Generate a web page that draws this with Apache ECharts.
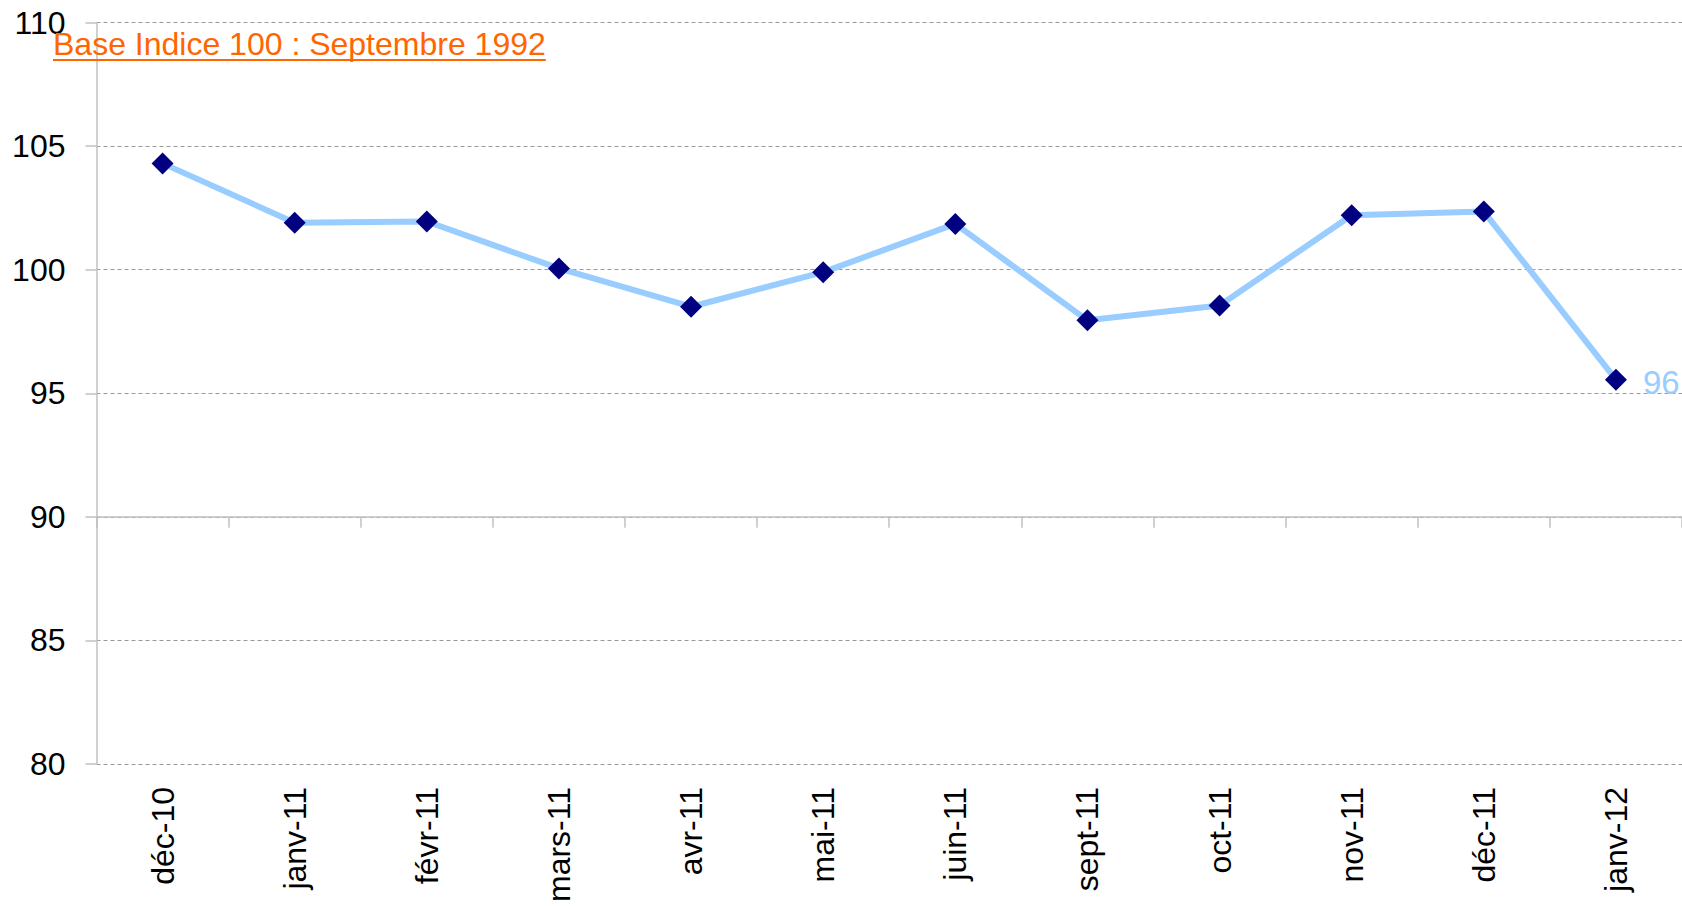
<!DOCTYPE html>
<html>
<head>
<meta charset="utf-8">
<script src="https://cdn.jsdelivr.net/npm/echarts@6.0.0/dist/echarts.min.js"></script>
<style>
  html, body { margin: 0; padding: 0; background: #fff; }
  #chart { width: 1682px; height: 909px; }
</style>
</head>
<body>
<div id="chart"></div>
<script>
// données
const months = ["déc-10", "janv-11", "févr-11", "mars-11", "avr-11", "mai-11", "juin-11", "sept-11", "oct-11", "nov-11", "déc-11", "janv-12"];
const indice = [104.3, 101.9, 101.95, 100.05, 98.5, 99.9, 101.85, 97.95, 98.55, 102.2, 102.35, 95.55];
const yTicks = [80, 85, 90, 95, 100, 105, 110];
const titre = "Base Indice 100 : Septembre 1992";

const FONT = "'Liberation Sans', Arial, sans-serif";
const W = 1682, H = 909;
const gridLeft = 96.5, gridTop = 22.5, gridBottom = 145;
const yMin = yTicks[0], yMax = yTicks[yTicks.length - 1], yCross = 90;
// l'axe des abscisses coupe à 90 : seconde grille alignée sur la première
const plotH = H - gridTop - gridBottom;
const yCrossPx = gridTop + plotH * (yMax - yCross) / (yMax - yMin);

function textWidth(str, font) {
    const ctx = document.createElement("canvas").getContext("2d");
    ctx.font = font;
    return ctx.measureText(str).width;
}
const titleFont = 32;
const titleW = textWidth(titre, `${titleFont}px 'Liberation Sans', Arial`);

const chart = echarts.init(document.getElementById("chart"), null, { renderer: "svg" });
chart.setOption({
    animation: false,
    backgroundColor: "#fff",
    grid: [
        { left: gridLeft, right: 0, top: gridTop, bottom: gridBottom },
        { left: gridLeft, right: 0, top: gridTop, bottom: H - yCrossPx }
    ],
    xAxis: [
        {
            gridIndex: 0, type: "category", data: months, boundaryGap: true,
            axisLine: { show: false }, axisTick: { show: false },
            axisLabel: { rotate: 90, fontSize: 32, color: "#000", fontFamily: FONT, margin: 23, interval: 0 }
        },
        {
            gridIndex: 1, type: "category", data: months, boundaryGap: true,
            axisLine: { show: true, lineStyle: { color: "#c0c0c0", width: 1.5 } },
            axisTick: { show: true, length: 11, lineStyle: { color: "#c0c0c0", width: 1.5 } },
            axisLabel: { show: false }
        }
    ],
    yAxis: [
        {
            gridIndex: 0, type: "value", min: yMin, max: yMax, interval: 5,
            axisLine: { show: true, lineStyle: { color: "#c0c0c0", width: 1.5 } },
            axisTick: { show: true, length: 11, lineStyle: { color: "#c0c0c0", width: 1.5 } },
            axisLabel: { fontSize: 32, color: "#000", fontFamily: FONT, margin: 31 },
            splitLine: { show: true, lineStyle: { color: "#999", type: [4, 3], width: 1 } }
        },
        {
            gridIndex: 1, type: "value", min: yCross, max: yMax,
            axisLine: { show: false }, axisTick: { show: false },
            axisLabel: { show: false }, splitLine: { show: false }
        }
    ],
    series: [{
        type: "line",
        xAxisIndex: 1, yAxisIndex: 1,
        data: indice,
        symbol: "diamond", symbolSize: 22,
        itemStyle: { color: "#000080" },
        lineStyle: { color: "#99ccff", width: 6 },
        z: 3,
        label: {
            show: true, position: "right", distance: 16, offset: [0, 3],
            color: "#99ccff", fontSize: 33, fontFamily: FONT,
            formatter: p => p.dataIndex === indice.length - 1 ? Math.round(p.value) : ""
        }
    }],
    graphic: [
        {
            type: "text", left: 53, top: 28, z: 10,
            style: { text: titre, fill: "#ff6600", font: `${titleFont}px ${FONT}` }
        },
        {
            type: "line", z: 10,
            shape: { x1: 53, y1: 60, x2: 53 + titleW, y2: 60 },
            style: { stroke: "#ff6600", lineWidth: 2 }
        }
    ]
});
</script>
</body>
</html>
